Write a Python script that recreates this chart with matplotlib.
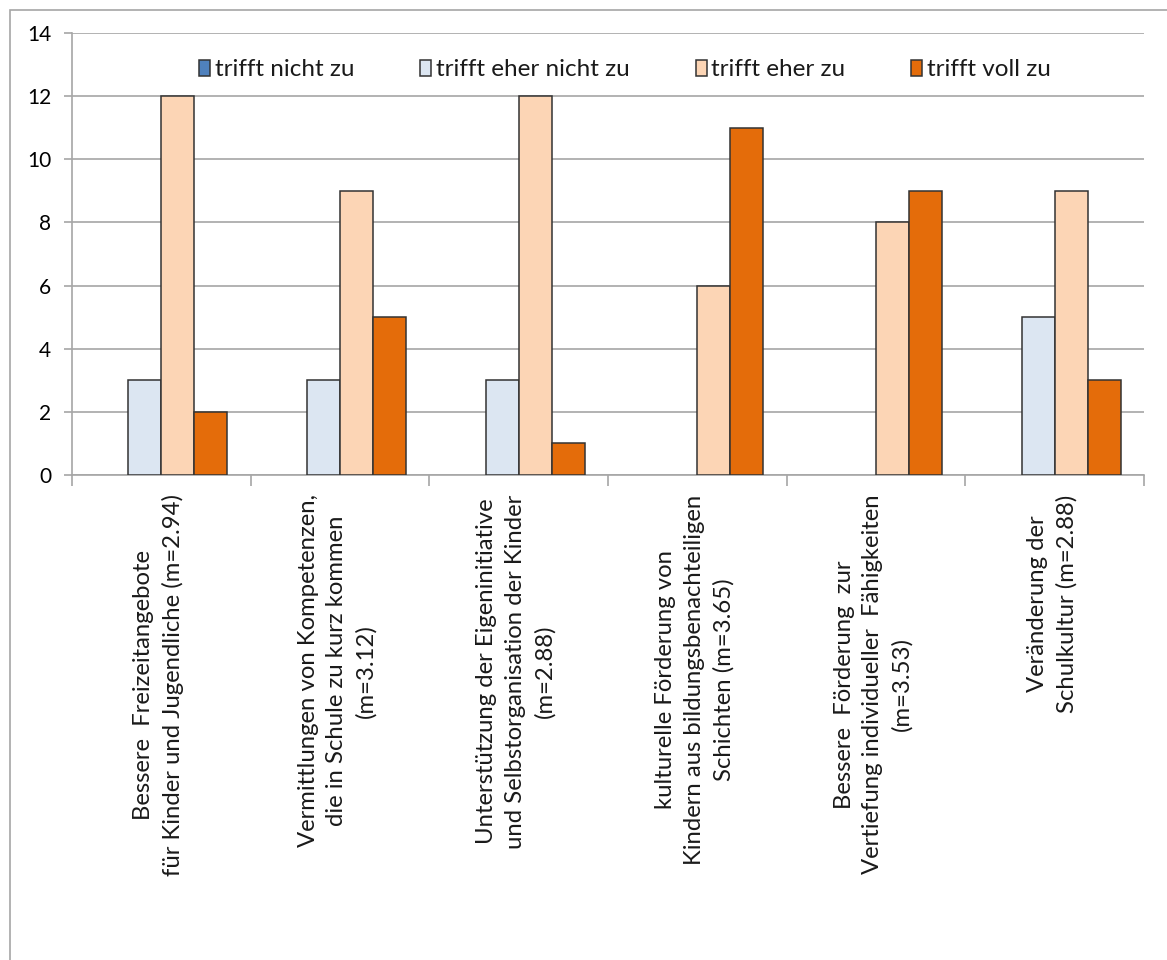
"""
Zustimmung zu Zielen - gruppiertes Balkendiagramm
"""
import matplotlib
matplotlib.use("Agg")
import matplotlib.pyplot as plt
import matplotlib.patches as mpatches
import numpy as np

plt.rcParams.update({
    "font.family": ["Lato", "DejaVu Sans"],
    "font.size": 15,
    "text.color": "#1a1a1a",
})

categories = [
    "Bessere  Freizeitangebote\nfür Kinder und Jugendliche (m=2.94)",
    "Vermittlungen von Kompetenzen,\ndie in Schule zu kurz kommen\n(m=3.12)",
    "Unterstützung der Eigeninitiative\nund Selbstorganisation der Kinder\n(m=2.88)",
    "kulturelle Förderung von\nKindern aus bildungsbenachteiligen\nSchichten (m=3.65)",
    "Bessere  Förderung  zur\nVertiefung individueller  Fähigkeiten\n(m=3.53)",
    "Veränderung der\nSchulkultur (m=2.88)",
]
series_names = ["trifft nicht zu", "trifft eher nicht zu", "trifft eher zu", "trifft voll zu"]
nicht_zu = [0, 0, 0, 0, 0, 0]
eher_nicht_zu = [3, 3, 3, 0, 0, 5]
eher_zu = [12, 9, 12, 6, 8, 9]
voll_zu = [2, 5, 1, 11, 9, 3]
colors = ["#4F81BD", "#DCE6F2", "#FCD5B5", "#E46C0A"]

fig = plt.figure(figsize=(11.67, 9.6), dpi=100)
ax = fig.add_axes([72 / 1167, 1 - 475 / 960, (1144 - 72) / 1167, (475 - 33) / 960])

# frame around the chart area
fig.patches.append(mpatches.Rectangle((10 / 1167, -0.1), 1.2, 1 - 10 / 960 + 0.1,
                                      transform=fig.transFigure, fill=False,
                                      edgecolor="#a6a6a6", linewidth=1.2))

x = np.arange(len(categories))
width = 0.185
for k, (vals, name, col) in enumerate(zip([nicht_zu, eher_nicht_zu, eher_zu, voll_zu],
                                          series_names, colors)):
    offs = (k - 1.5) * width
    bars = ax.bar(x + offs, vals, width, color=col, edgecolor="#333333",
                  linewidth=1.1, label=name, zorder=3)
    # empty categories get no visible bar
    for b, v in zip(bars, vals):
        if v == 0:
            b.set_visible(False)

ax.set_xlim(-0.5, len(categories) - 0.5)
ax.set_ylim(0, 14)
ax.set_yticks(range(0, 15, 2))
ax.yaxis.grid(True, color="#a6a6a6", linewidth=1.2, zorder=0)
for s in ["top", "right"]:
    ax.spines[s].set_visible(False)
for s in ["left", "bottom"]:
    ax.spines[s].set_color("#a6a6a6")
    ax.spines[s].set_linewidth(1.2)
ax.tick_params(axis="y", direction="out", length=6, color="#a6a6a6", width=1.2,
               pad=9, labelsize=15)

ax.set_xticks([])
ax.set_xticks(np.arange(-0.5, len(categories)), minor=True)
ax.tick_params(axis="x", which="minor", direction="out", length=8, color="#a6a6a6",
               width=1.2, labelbottom=False)

for i, lab in enumerate(categories):
    ax.annotate(lab, xy=(i, 0), xycoords=("data", "axes fraction"),
                xytext=(-2, -14), textcoords="offset points",
                rotation=90, ha="center", va="top", multialignment="center",
                fontsize=17.2, linespacing=1.45)

leg = ax.legend(loc="center", bbox_to_anchor=(0.516, 0.917), ncol=4,
                frameon=False, handlelength=0.45, handleheight=0.65, handletextpad=0.2,
                columnspacing=2.7, fontsize=17.5)
for lh in leg.legend_handles:
    lh.set_visible(True)
    lh.set_edgecolor("#333333")
    lh.set_linewidth(1.1)

fig.savefig("out.png", dpi=100, facecolor="white")
